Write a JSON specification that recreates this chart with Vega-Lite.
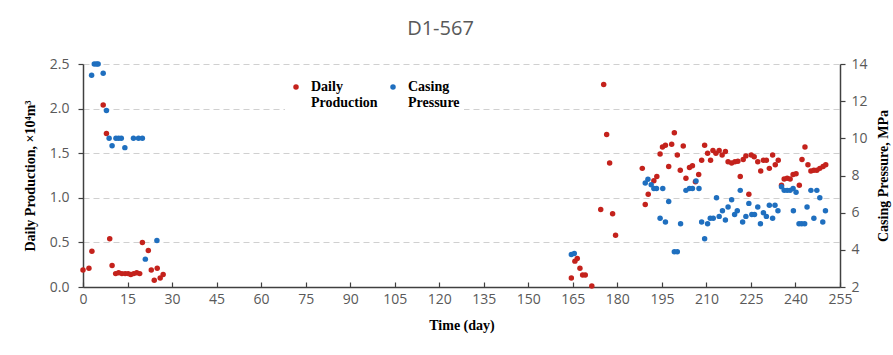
{
  "$schema": "https://vega.github.io/schema/vega-lite/v6.json",
  "width": 757,
  "height": 223,
  "autosize": {"type": "none"},
  "padding": {"left": 83, "top": 64, "right": 53, "bottom": 68},
  "background": "white",
  "title": {
    "text": "D1-567",
    "anchor": "middle",
    "frame": "group",
    "dx": -21,
    "offset": 18,
    "font": "Liberation Sans Narrow, Open Sans",
    "fontSize": 20,
    "fontWeight": "normal",
    "color": "#595959"
  },
  "config": {
    "view": {"stroke": null},
    "axis": {
      "labelFont": "Liberation Sans Narrow, Open Sans",
      "labelFontSize": 14,
      "labelColor": "#595959",
      "titleFont": "Liberation Serif",
      "titleFontSize": 14,
      "titleFontWeight": "bold",
      "titleColor": "#000000",
      "domainColor": "#404040",
      "domainWidth": 1.5,
      "tickColor": "#404040",
      "tickWidth": 1.2
    }
  },
  "datasets": {
    "prod": [
      {"day": 0, "value": 0.19, "series": "Daily Production"},
      {"day": 2, "value": 0.21, "series": "Daily Production"},
      {"day": 3, "value": 0.40, "series": "Daily Production"},
      {"day": 6.8, "value": 2.04, "series": "Daily Production"},
      {"day": 7.9, "value": 1.72, "series": "Daily Production"},
      {"day": 9, "value": 0.54, "series": "Daily Production"},
      {"day": 9.8, "value": 0.24, "series": "Daily Production"},
      {"day": 11, "value": 0.15, "series": "Daily Production"},
      {"day": 12, "value": 0.16, "series": "Daily Production"},
      {"day": 13.1, "value": 0.15, "series": "Daily Production"},
      {"day": 14.2, "value": 0.15, "series": "Daily Production"},
      {"day": 15.2, "value": 0.15, "series": "Daily Production"},
      {"day": 16.1, "value": 0.14, "series": "Daily Production"},
      {"day": 17.1, "value": 0.15, "series": "Daily Production"},
      {"day": 18.1, "value": 0.16, "series": "Daily Production"},
      {"day": 19.1, "value": 0.15, "series": "Daily Production"},
      {"day": 20, "value": 0.50, "series": "Daily Production"},
      {"day": 22, "value": 0.41, "series": "Daily Production"},
      {"day": 23, "value": 0.19, "series": "Daily Production"},
      {"day": 24, "value": 0.075, "series": "Daily Production"},
      {"day": 25, "value": 0.21, "series": "Daily Production"},
      {"day": 26, "value": 0.10, "series": "Daily Production"},
      {"day": 27, "value": 0.14, "series": "Daily Production"},
      {"day": 164.5, "value": 0.10, "series": "Daily Production"},
      {"day": 165.7, "value": 0.29, "series": "Daily Production"},
      {"day": 166.5, "value": 0.32, "series": "Daily Production"},
      {"day": 167.4, "value": 0.21, "series": "Daily Production"},
      {"day": 168.3, "value": 0.135, "series": "Daily Production"},
      {"day": 169.2, "value": 0.135, "series": "Daily Production"},
      {"day": 171.4, "value": 0.01, "series": "Daily Production"},
      {"day": 174.4, "value": 0.87, "series": "Daily Production"},
      {"day": 175.4, "value": 2.27, "series": "Daily Production"},
      {"day": 176.4, "value": 1.71, "series": "Daily Production"},
      {"day": 177.4, "value": 1.39, "series": "Daily Production"},
      {"day": 178.4, "value": 0.82, "series": "Daily Production"},
      {"day": 179.4, "value": 0.58, "series": "Daily Production"},
      {"day": 188.4, "value": 1.33, "series": "Daily Production"},
      {"day": 189.4, "value": 0.925, "series": "Daily Production"},
      {"day": 190.4, "value": 1.04, "series": "Daily Production"},
      {"day": 192.3, "value": 1.19, "series": "Daily Production"},
      {"day": 193.3, "value": 1.24, "series": "Daily Production"},
      {"day": 194.4, "value": 1.49, "series": "Daily Production"},
      {"day": 195.2, "value": 1.57, "series": "Daily Production"},
      {"day": 196.2, "value": 1.59, "series": "Daily Production"},
      {"day": 197.3, "value": 1.35, "series": "Daily Production"},
      {"day": 198.3, "value": 1.60, "series": "Daily Production"},
      {"day": 199.2, "value": 1.73, "series": "Daily Production"},
      {"day": 200.2, "value": 1.48, "series": "Daily Production"},
      {"day": 201.2, "value": 1.31, "series": "Daily Production"},
      {"day": 202.2, "value": 1.58, "series": "Daily Production"},
      {"day": 203.1, "value": 1.22, "series": "Daily Production"},
      {"day": 204.3, "value": 1.34, "series": "Daily Production"},
      {"day": 205.3, "value": 1.36, "series": "Daily Production"},
      {"day": 206.3, "value": 1.18, "series": "Daily Production"},
      {"day": 207.4, "value": 1.26, "series": "Daily Production"},
      {"day": 208.4, "value": 1.42, "series": "Daily Production"},
      {"day": 209.4, "value": 1.59, "series": "Daily Production"},
      {"day": 210.4, "value": 1.50, "series": "Daily Production"},
      {"day": 211.4, "value": 1.42, "series": "Daily Production"},
      {"day": 212.2, "value": 1.53, "series": "Daily Production"},
      {"day": 213.2, "value": 1.50, "series": "Daily Production"},
      {"day": 214.3, "value": 1.53, "series": "Daily Production"},
      {"day": 215.3, "value": 1.48, "series": "Daily Production"},
      {"day": 216.4, "value": 1.52, "series": "Daily Production"},
      {"day": 217.3, "value": 1.405, "series": "Daily Production"},
      {"day": 218.5, "value": 1.39, "series": "Daily Production"},
      {"day": 219.6, "value": 1.405, "series": "Daily Production"},
      {"day": 220.6, "value": 1.41, "series": "Daily Production"},
      {"day": 221.4, "value": 1.24, "series": "Daily Production"},
      {"day": 222.4, "value": 1.43, "series": "Daily Production"},
      {"day": 223.3, "value": 1.47, "series": "Daily Production"},
      {"day": 224.3, "value": 1.04, "series": "Daily Production"},
      {"day": 225.1, "value": 1.48, "series": "Daily Production"},
      {"day": 226.1, "value": 1.46, "series": "Daily Production"},
      {"day": 227.3, "value": 1.405, "series": "Daily Production"},
      {"day": 228.3, "value": 1.30, "series": "Daily Production"},
      {"day": 229.2, "value": 1.42, "series": "Daily Production"},
      {"day": 230.2, "value": 1.42, "series": "Daily Production"},
      {"day": 231.2, "value": 1.33, "series": "Daily Production"},
      {"day": 232.3, "value": 1.48, "series": "Daily Production"},
      {"day": 233.2, "value": 1.37, "series": "Daily Production"},
      {"day": 234.2, "value": 1.42, "series": "Daily Production"},
      {"day": 235.3, "value": 1.14, "series": "Daily Production"},
      {"day": 236.2, "value": 1.21, "series": "Daily Production"},
      {"day": 237.2, "value": 1.22, "series": "Daily Production"},
      {"day": 238.2, "value": 1.21, "series": "Daily Production"},
      {"day": 239.2, "value": 1.26, "series": "Daily Production"},
      {"day": 240.2, "value": 1.27, "series": "Daily Production"},
      {"day": 241.3, "value": 1.14, "series": "Daily Production"},
      {"day": 242.2, "value": 1.43, "series": "Daily Production"},
      {"day": 243.2, "value": 1.57, "series": "Daily Production"},
      {"day": 244.2, "value": 1.37, "series": "Daily Production"},
      {"day": 245.2, "value": 1.30, "series": "Daily Production"},
      {"day": 246.2, "value": 1.31, "series": "Daily Production"},
      {"day": 247.2, "value": 1.31, "series": "Daily Production"},
      {"day": 248.2, "value": 1.33, "series": "Daily Production"},
      {"day": 249.3, "value": 1.35, "series": "Daily Production"},
      {"day": 250.2, "value": 1.37, "series": "Daily Production"}
    ],
    "press": [
      {"day": 2.9, "value": 13.4, "series": "Casing Pressure"},
      {"day": 3.8, "value": 14.0, "series": "Casing Pressure"},
      {"day": 4.6, "value": 14.0, "series": "Casing Pressure"},
      {"day": 5.1, "value": 14.0, "series": "Casing Pressure"},
      {"day": 6.8, "value": 13.5, "series": "Casing Pressure"},
      {"day": 7.9, "value": 11.5, "series": "Casing Pressure"},
      {"day": 8.8, "value": 10.0, "series": "Casing Pressure"},
      {"day": 9.8, "value": 9.6, "series": "Casing Pressure"},
      {"day": 11.1, "value": 10.0, "series": "Casing Pressure"},
      {"day": 12.0, "value": 10.0, "series": "Casing Pressure"},
      {"day": 12.9, "value": 10.0, "series": "Casing Pressure"},
      {"day": 14.1, "value": 9.5, "series": "Casing Pressure"},
      {"day": 17, "value": 10.0, "series": "Casing Pressure"},
      {"day": 18.7, "value": 10.0, "series": "Casing Pressure"},
      {"day": 20, "value": 10.0, "series": "Casing Pressure"},
      {"day": 21, "value": 3.5, "series": "Casing Pressure"},
      {"day": 24.9, "value": 4.5, "series": "Casing Pressure"},
      {"day": 164.5, "value": 3.75, "series": "Casing Pressure"},
      {"day": 165.5, "value": 3.8, "series": "Casing Pressure"},
      {"day": 189.4, "value": 7.6, "series": "Casing Pressure"},
      {"day": 190.3, "value": 7.8, "series": "Casing Pressure"},
      {"day": 191.4, "value": 7.5, "series": "Casing Pressure"},
      {"day": 192.3, "value": 7.3, "series": "Casing Pressure"},
      {"day": 193.2, "value": 7.3, "series": "Casing Pressure"},
      {"day": 195.3, "value": 7.3, "series": "Casing Pressure"},
      {"day": 194.4, "value": 5.7, "series": "Casing Pressure"},
      {"day": 196.2, "value": 5.5, "series": "Casing Pressure"},
      {"day": 197.3, "value": 6.6, "series": "Casing Pressure"},
      {"day": 199.2, "value": 3.9, "series": "Casing Pressure"},
      {"day": 200.2, "value": 3.9, "series": "Casing Pressure"},
      {"day": 201.3, "value": 5.4, "series": "Casing Pressure"},
      {"day": 203.1, "value": 7.2, "series": "Casing Pressure"},
      {"day": 204.3, "value": 7.3, "series": "Casing Pressure"},
      {"day": 205.3, "value": 7.3, "series": "Casing Pressure"},
      {"day": 206.5, "value": 7.7, "series": "Casing Pressure"},
      {"day": 207.5, "value": 7.3, "series": "Casing Pressure"},
      {"day": 208.4, "value": 5.5, "series": "Casing Pressure"},
      {"day": 209.4, "value": 4.6, "series": "Casing Pressure"},
      {"day": 210.4, "value": 5.4, "series": "Casing Pressure"},
      {"day": 211.3, "value": 5.7, "series": "Casing Pressure"},
      {"day": 212.3, "value": 5.7, "series": "Casing Pressure"},
      {"day": 213.4, "value": 6.8, "series": "Casing Pressure"},
      {"day": 214.3, "value": 5.8, "series": "Casing Pressure"},
      {"day": 215.4, "value": 6.1, "series": "Casing Pressure"},
      {"day": 216.4, "value": 5.6, "series": "Casing Pressure"},
      {"day": 217.3, "value": 6.3, "series": "Casing Pressure"},
      {"day": 218.5, "value": 6.7, "series": "Casing Pressure"},
      {"day": 219.5, "value": 5.9, "series": "Casing Pressure"},
      {"day": 220.4, "value": 6.1, "series": "Casing Pressure"},
      {"day": 221.4, "value": 7.2, "series": "Casing Pressure"},
      {"day": 222.2, "value": 5.5, "series": "Casing Pressure"},
      {"day": 223.3, "value": 5.8, "series": "Casing Pressure"},
      {"day": 224.3, "value": 6.5, "series": "Casing Pressure"},
      {"day": 225.3, "value": 5.9, "series": "Casing Pressure"},
      {"day": 226.2, "value": 5.9, "series": "Casing Pressure"},
      {"day": 227.3, "value": 6.3, "series": "Casing Pressure"},
      {"day": 228.2, "value": 5.4, "series": "Casing Pressure"},
      {"day": 229.2, "value": 6.0, "series": "Casing Pressure"},
      {"day": 230.2, "value": 5.8, "series": "Casing Pressure"},
      {"day": 231.2, "value": 6.4, "series": "Casing Pressure"},
      {"day": 232.3, "value": 5.7, "series": "Casing Pressure"},
      {"day": 233.1, "value": 6.4, "series": "Casing Pressure"},
      {"day": 234.1, "value": 6.1, "series": "Casing Pressure"},
      {"day": 235.3, "value": 7.4, "series": "Casing Pressure"},
      {"day": 236.2, "value": 7.2, "series": "Casing Pressure"},
      {"day": 237.2, "value": 7.2, "series": "Casing Pressure"},
      {"day": 238.2, "value": 7.2, "series": "Casing Pressure"},
      {"day": 239.2, "value": 7.3, "series": "Casing Pressure"},
      {"day": 240.2, "value": 7.1, "series": "Casing Pressure"},
      {"day": 239.3, "value": 6.1, "series": "Casing Pressure"},
      {"day": 241.2, "value": 5.4, "series": "Casing Pressure"},
      {"day": 242.1, "value": 5.4, "series": "Casing Pressure"},
      {"day": 243.1, "value": 5.4, "series": "Casing Pressure"},
      {"day": 243.9, "value": 6.3, "series": "Casing Pressure"},
      {"day": 245.2, "value": 7.2, "series": "Casing Pressure"},
      {"day": 247.2, "value": 7.2, "series": "Casing Pressure"},
      {"day": 248.2, "value": 6.8, "series": "Casing Pressure"},
      {"day": 246.2, "value": 5.7, "series": "Casing Pressure"},
      {"day": 249.2, "value": 5.5, "series": "Casing Pressure"},
      {"day": 250.1, "value": 6.1, "series": "Casing Pressure"}
    ]
  },
  "encoding": {
    "x": {
      "field": "day",
      "type": "quantitative",
      "scale": {"domain": [0, 255], "nice": false, "zero": false},
      "axis": {
        "title": "Time (day)",
        "values": [0, 15, 30, 45, 60, 75, 90, 105, 120, 135, 150, 165, 180, 195, 210, 225, 240, 255],
        "grid": false,
        "tickSize": -5,
        "labelPadding": 10,
        "titlePadding": 12,
        "labelFlush": false,
        "labelOverlap": false
      }
    },
    "color": {
      "field": "series",
      "type": "nominal",
      "scale": {"domain": ["Daily Production", "Casing Pressure"], "range": ["#C4221C", "#1F6FBF"]},
      "legend": {
        "title": null,
        "orient": "none",
        "legendX": 202,
        "legendY": 12,
        "direction": "horizontal",
        "symbolType": "circle",
        "symbolSize": 30,
        "symbolOpacity": 1,
        "labelFont": "Liberation Serif",
        "labelFontSize": 14,
        "labelFontWeight": "bold",
        "labelColor": "#000000",
        "labelExpr": "split(datum.label, ' ')",
        "labelLimit": 0,
        "columnPadding": 8,
        "labelOffset": 8,
        "fillColor": "white",
        "padding": 4
      }
    }
  },
  "layer": [
    {
      "data": {"name": "prod"},
      "mark": {"type": "point", "filled": true, "opacity": 1, "size": 30},
      "encoding": {
        "y": {
          "field": "value",
          "type": "quantitative",
          "scale": {"domain": [0, 2.5], "nice": false},
          "axis": {
            "title": "Daily Production, ×10⁴m³",
            "orient": "left",
            "values": [0, 0.5, 1, 1.5, 2, 2.5],
            "format": ".1f",
            "grid": true,
            "gridColor": "#d0d0d0",
            "gridDash": [6, 4],
            "gridWidth": 1.2,
            "tickSize": 5,
            "labelPadding": 9,
            "titlePadding": 12
          }
        }
      }
    },
    {
      "data": {"name": "press"},
      "mark": {"type": "point", "filled": true, "opacity": 1, "size": 30},
      "encoding": {
        "y": {
          "field": "value",
          "type": "quantitative",
          "scale": {"domain": [2, 14], "nice": false, "zero": false},
          "axis": {
            "title": "Casing Pressure, MPa",
            "titleAngle": 270,
            "titleBaseline": "middle",
            "orient": "right",
            "values": [2, 4, 6, 8, 10, 12, 14],
            "format": "d",
            "grid": false,
            "tickSize": 5,
            "labelPadding": 6,
            "titlePadding": 16
          }
        }
      }
    }
  ],
  "resolve": {"scale": {"y": "independent"}}
}
